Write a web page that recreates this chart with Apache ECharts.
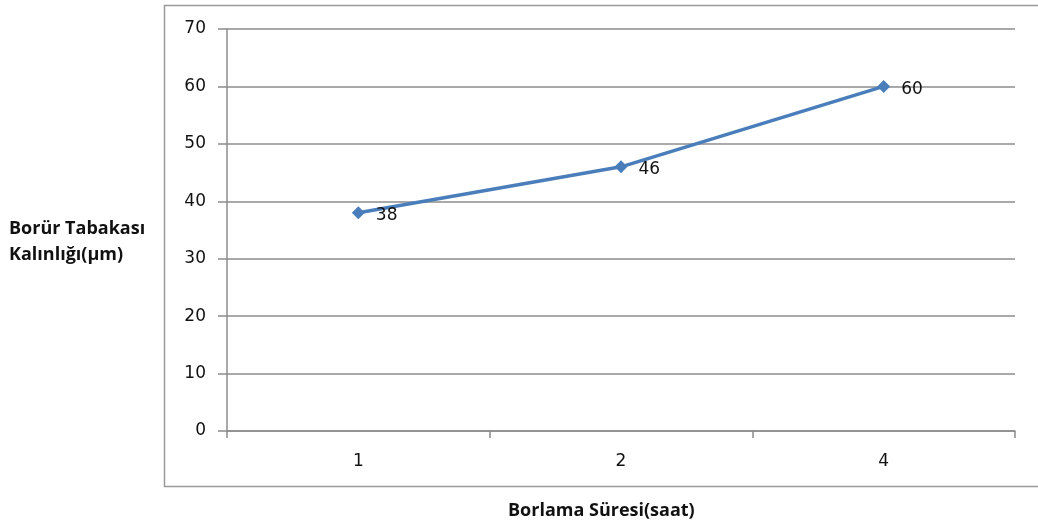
<!DOCTYPE html>
<html><head><meta charset="utf-8">
<script src="https://cdn.jsdelivr.net/npm/echarts@6/dist/echarts.min.js"></script>
<style>html,body{margin:0;padding:0;background:#fff}#c{width:1038px;height:531px}</style>
</head><body><div id="c"></div>
<script>
const categories = ['1', '2', '4'];
const thickness = [38, 46, 60];
const yTicks = [0, 10, 20, 30, 40, 50, 60, 70];
const xTitle = 'Borlama Süresi(saat)';
const yTitle = 'Borür Tabakası\nKalınlığı(µm)';

const chart = echarts.init(document.getElementById('c'));
const font = '"Open Sans", "DejaVu Sans", sans-serif';
const numFont = '"DejaVu Sans", sans-serif';
chart.setOption({
  animation: false,
  backgroundColor: '#fff',
  grid: { left: 227, right: 23, top: 29, bottom: 100 },
  graphic: [
    { type: 'rect', shape: { x: 164.5, y: 5.5, width: 900, height: 481 },
      style: { fill: 'none', stroke: '#9a9a9a', lineWidth: 1.5 }, z: -1 },
    { type: 'text', left: 9, top: 216,
      style: { text: yTitle, font: 'bold 18px ' + font, fill: '#111', lineHeight: 26 } },
    { type: 'text', left: 508, top: 502,
      style: { text: xTitle, font: 'bold 18px ' + font, fill: '#111' } }
  ],
  xAxis: {
    type: 'category', data: categories, boundaryGap: true,
    axisLine: { lineStyle: { color: '#8c8c8c', width: 1.5 } },
    axisTick: { show: true, length: 7, lineStyle: { color: '#8c8c8c', width: 1.5 } },
    axisLabel: { color: '#111', fontSize: 17, fontFamily: numFont, margin: 22 }
  },
  yAxis: {
    type: 'value', min: yTicks[0], max: yTicks[yTicks.length - 1], interval: 10,
    axisLine: { show: true, lineStyle: { color: '#8c8c8c', width: 1.5 } },
    axisTick: { show: true, length: 9, lineStyle: { color: '#8c8c8c', width: 1.5 } },
    axisLabel: { color: '#111', fontSize: 17, fontFamily: numFont, margin: 21, padding: [4, 0, 0, 0] },
    splitLine: { show: true, lineStyle: { color: '#8c8c8c', width: 1.5 } }
  },
  series: [{
    type: 'line', data: thickness,
    symbol: 'diamond', symbolSize: 13,
    lineStyle: { color: '#4a7ebb', width: 3.5 },
    itemStyle: { color: '#4a7ebb' },
    label: { show: true, position: 'right', distance: 11, color: '#111', fontSize: 17, fontFamily: numFont, offset: [0, 3] }
  }]
});
</script></body></html>
